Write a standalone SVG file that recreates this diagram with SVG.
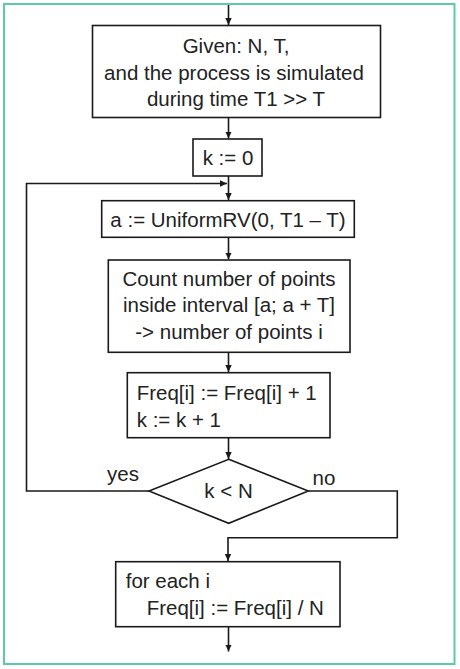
<svg xmlns="http://www.w3.org/2000/svg" width="460" height="669" viewBox="0 0 460 669">
<style>
.n{fill:#fff;stroke:#1a1a1a;stroke-width:1.6}
.c{fill:none;stroke:#1a1a1a;stroke-width:1.6}
text{font-family:"Liberation Sans",Arial,sans-serif;font-size:20.5px;fill:#222}
.m{text-anchor:middle}
</style>
<defs>
<marker id="ah" markerWidth="8" markerHeight="8" refX="7" refY="4" orient="auto" markerUnits="userSpaceOnUse">
<path d="M0,0.8 L7,4 L0,7.2 Z" fill="#1a1a1a"/>
</marker>
</defs>
<rect x="4" y="4" width="450.5" height="660" fill="#fff" stroke="#5cc9a7" stroke-width="2"/>
<g id="connectors">
<path class="c" d="M228.5,5 V25" marker-end="url(#ah)"/>
<path class="c" d="M228.5,117.5 V138.5" marker-end="url(#ah)"/>
<path class="c" d="M228.5,176 V200" marker-end="url(#ah)"/>
<path class="c" d="M149,491 H26.5 V183.5 H227" marker-end="url(#ah)"/>
<path class="c" d="M228.5,237.3 V259.5" marker-end="url(#ah)"/>
<path class="c" d="M228.5,352.3 V372" marker-end="url(#ah)"/>
<path class="c" d="M228.5,437.7 V459" marker-end="url(#ah)"/>
<path class="c" d="M308.3,491 H397.3 V537.7 H228 V561" marker-end="url(#ah)"/>
<path class="c" d="M228.5,626.7 V651.5" marker-end="url(#ah)"/>
</g>
<g id="given">
<rect class="n" x="92.5" y="25.5" width="288" height="92"/>
<text class="m" x="236" y="53">Given: N, T,</text>
<text class="m" x="234" y="79.5">and the process is simulated</text>
<text class="m" x="236" y="106">during time T1 &gt;&gt; T</text>
</g>
<g id="k0">
<rect class="n" x="193" y="139" width="69" height="37"/>
<text class="m" x="228" y="165">k := 0</text>
</g>
<g id="uniform">
<rect class="n" x="101.7" y="200.7" width="252.6" height="36.6"/>
<text class="m" x="228" y="226.5">a := UniformRV(0, T1 – T)</text>
</g>
<g id="count">
<rect class="n" x="108.3" y="260" width="241.7" height="92.3"/>
<text class="m" x="229" y="286">Count number of points</text>
<text class="m" x="229" y="312.3">inside interval [a; a + T]</text>
<text class="m" x="229" y="339">-&gt; number of points i</text>
</g>
<g id="freq">
<rect class="n" x="127.3" y="372.7" width="202.7" height="65"/>
<text x="136.7" y="400">Freq[i] := Freq[i] + 1</text>
<text x="136.7" y="426.7">k := k + 1</text>
</g>
<g id="cond">
<polygon class="n" points="228.7,459.3 308.3,491 228.7,523.3 149,491"/>
<text class="m" x="228.5" y="498.3">k &lt; N</text>
<text x="107" y="481">yes</text>
<text x="312.5" y="485">no</text>
</g>
<g id="final">
<rect class="n" x="115.7" y="561.7" width="224.3" height="65"/>
<text x="125.7" y="587.7">for each i</text>
<text x="146.7" y="615">Freq[i] := Freq[i] / N</text>
</g>
</svg>
